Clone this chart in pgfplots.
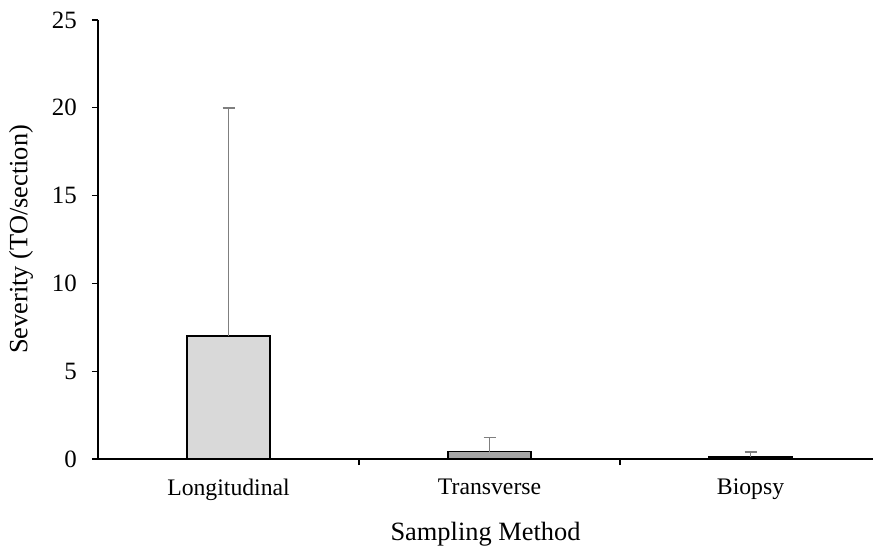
\documentclass[border=0pt]{standalone}
\usepackage{pgfplots}
\pgfplotsset{compat=1.18}
\usepackage{fontspec}
\setmainfont{Liberation Serif}
\definecolor{barA}{HTML}{D9D9D9}
\definecolor{barB}{HTML}{A6A6A6}
\definecolor{barC}{HTML}{404040}
\definecolor{errc}{HTML}{7F7F7F}
\begin{document}
\fontsize{23.8}{28}\selectfont
\begin{tikzpicture}
\begin{axis}[
  name=main,
  scale only axis,
  width=775bp,
  height=439bp,
  ybar,
  bar width=83bp,
  xmin=-0.5, xmax=2.469,
  ymin=0, ymax=25,
  ytick={0,5,10,15,20,25},
  xtick={0.5,1.5},
  xticklabels={},
  extra x ticks={0,1,2},
  extra x tick labels={Longitudinal,Transverse,Biopsy},
  extra x tick style={major tick length=0pt},
  major tick length=6bp,
  axis lines*=left,
  axis line style={black, line width=1.4pt},
  tick style={black, line width=1.4pt},
  tick align=outside,
  ylabel={Severity (TO/section)},
  xlabel={Sampling Method},
  xticklabel style={font=\fontsize{23.8}{28}\selectfont, yshift=-12bp},
  yticklabel style={font=\fontsize{25}{30}\selectfont, xshift=-7bp},
  label style={font=\fontsize{26.5}{31}\selectfont},
  /pgf/number format/assume math mode=true,
  xlabel style={yshift=0bp},
  ylabel style={yshift=3bp},
  clip=false,
]
\addplot[bar shift=0pt, fill=barA, draw=black, line width=1.4pt,
  error bars/.cd, y dir=plus, y explicit,
  error bar style={errc, line width=1.8pt},
  error mark options={rotate=90, mark size=6bp, errc, line width=1.8pt}]
  coordinates {(0,7) +- (0,13)};
\addplot[bar shift=0pt, fill=barB, draw=black, line width=1.4pt,
  error bars/.cd, y dir=plus, y explicit,
  error bar style={errc, line width=1.8pt},
  error mark options={rotate=90, mark size=6bp, errc, line width=1.8pt}]
  coordinates {(1,0.42) +- (0,0.8)};
\addplot[bar shift=0pt, fill=barC, draw=black, line width=1.4pt,
  error bars/.cd, y dir=plus, y explicit,
  error bar style={errc, line width=1.8pt},
  error mark options={rotate=90, mark size=6bp, errc, line width=1.8pt}]
  coordinates {(2,0.12) +- (0,0.28)};
\end{axis}
\pgfresetboundingbox
\path[use as bounding box] (main.south west) ++(-98bp,-89bp) rectangle ++(873bp,548bp);
\end{tikzpicture}
\end{document}
